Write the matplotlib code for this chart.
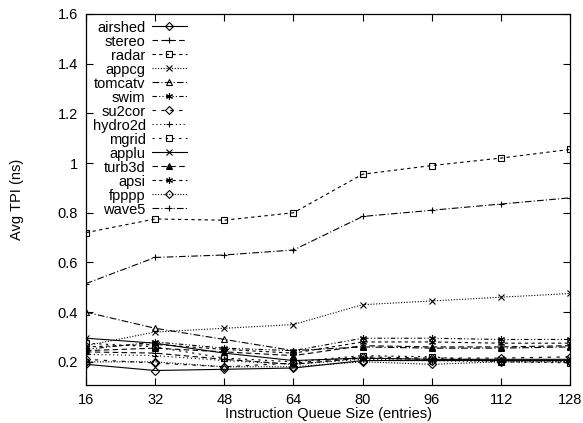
import matplotlib
matplotlib.use("Agg")
import matplotlib.pyplot as plt

plt.rcParams["font.family"] = ["Liberation Sans", "DejaVu Sans"]

queue_sizes = [16, 32, 48, 64, 80, 96, 112, 128]

benchmarks = ["airshed", "stereo", "radar", "appcg", "tomcatv", "swim", "su2cor",
              "hydro2d", "mgrid", "applu", "turb3d", "apsi", "fpppp", "wave5"]

airshed = [0.19, 0.165, 0.17, 0.175, 0.205, 0.205, 0.205, 0.205]
stereo = [0.24, 0.235, 0.21, 0.19, 0.215, 0.21, 0.205, 0.205]
radar = [0.72, 0.775, 0.77, 0.80, 0.955, 0.99, 1.02, 1.055]
appcg = [0.265, 0.32, 0.335, 0.35, 0.43, 0.445, 0.46, 0.475]
tomcatv = [0.40, 0.335, 0.29, 0.245, 0.26, 0.255, 0.255, 0.26]
swim = [0.25, 0.28, 0.255, 0.245, 0.295, 0.295, 0.29, 0.29]
su2cor = [0.21, 0.195, 0.18, 0.195, 0.22, 0.215, 0.215, 0.22]
hydro2d = [0.23, 0.225, 0.205, 0.19, 0.21, 0.205, 0.2, 0.2]
mgrid = [0.275, 0.26, 0.215, 0.2, 0.225, 0.22, 0.2, 0.196]
applu = [0.295, 0.275, 0.235, 0.205, 0.215, 0.21, 0.21, 0.21]
turb3d = [0.245, 0.255, 0.24, 0.225, 0.265, 0.26, 0.26, 0.265]
apsi = [0.26, 0.27, 0.25, 0.235, 0.28, 0.28, 0.275, 0.275]
fpppp = [0.2, 0.2, 0.18, 0.18, 0.2, 0.19, 0.2, 0.2]
wave5 = [0.515, 0.62, 0.63, 0.65, 0.785, 0.81, 0.835, 0.86]

series = [airshed, stereo, radar, appcg, tomcatv, swim, su2cor,
          hydro2d, mgrid, applu, turb3d, apsi, fpppp, wave5]

# gnuplot-like cycles: 9 dash types, 6 point types
dash_types = ["-", (0, (5, 3)), (0, (3, 3)), (0, (1, 1.5)), (0, (6, 2, 1, 2)),
              (0, (4, 2, 1, 2, 1, 2)), (0, (3, 5)), (0, (1, 2.5)), (0, (2, 4))]
markers = ["D", "+", "s", "x", "^", (6, 2, 0)]

fig = plt.figure(figsize=(5.83, 4.23), dpi=100)
ax = fig.add_axes([0.1475, 0.09, 0.8305, 0.877])

for i, (name, vals) in enumerate(zip(benchmarks, series)):
    mk = markers[i % 6]
    filled = i >= 10 and mk == "^"
    ax.plot(queue_sizes, vals, color="black", linewidth=0.8,
            linestyle=dash_types[i % 9], marker=mk,
            markersize=4 if mk == "D" else 5,
            markerfacecolor="black" if filled else "none",
            markeredgecolor="black", markeredgewidth=0.8, label=name)

ax.set_xlim(16, 128)
ax.set_ylim(0.107, 1.6)
ax.set_xticks(queue_sizes)
ax.set_yticks([0.2, 0.4, 0.6, 0.8, 1.0, 1.2, 1.4, 1.6])
ax.set_yticklabels(["0.2", "0.4", "0.6", "0.8", "1", "1.2", "1.4", "1.6"])
ax.tick_params(direction="in", top=True, right=True, length=5, labelsize=10.5, pad=6)
for sp in ax.spines.values():
    sp.set_linewidth(0.9)

ax.set_xlabel("Instruction Queue Size (entries)", fontsize=10.5, labelpad=0)
ax.set_ylabel("Avg TPI (ns)", fontsize=10.5, labelpad=24)

leg = ax.legend(loc="upper left", markerfirst=False, frameon=False, fontsize=10.5,
                handlelength=2.4, handletextpad=0.4, labelspacing=0.0,
                borderaxespad=0.2, borderpad=0.25)
for t in leg.get_texts():
    t.set_ha("right")

fig.savefig("out.png", dpi=100)
